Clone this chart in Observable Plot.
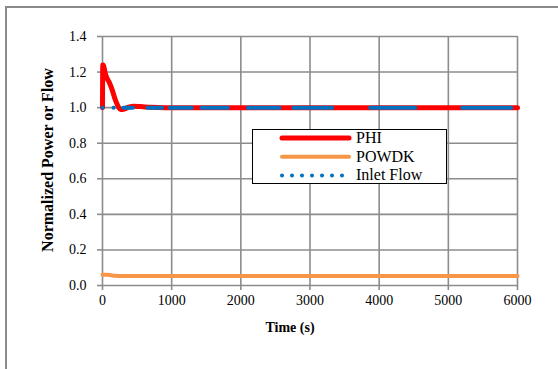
<!DOCTYPE html>
<html>
<head>
<meta charset="utf-8">
<script src="https://cdn.jsdelivr.net/npm/d3@7"></script>
<script src="https://cdn.jsdelivr.net/npm/@observablehq/plot@0.6"></script>
<style>
  html, body { margin: 0; padding: 0; background: #fff; }
  #chart { position: relative; width: 558px; height: 369px; overflow: hidden;
           font-family: "Liberation Serif", "Times New Roman", serif; }
  #frame { position: absolute; left: 5px; top: 6px; right: -2px; bottom: -2px;
           border-left: 2px solid #8a8a8a; border-top: 2px solid #8a8a8a; }
  .title { position: absolute; font-weight: bold; white-space: nowrap; color: #000; }
  #ytitle { left: 48px; top: 160px; font-size: 16px; transform: translate(-50%, -50%) rotate(-90deg); }
  #xtitle { left: 290px; top: 328px; font-size: 14px; transform: translate(-50%, -50%); }
  #legend { position: absolute; left: 252px; top: 129px; width: 193px; height: 53px;
            border: 1.5px solid #000; background: #fff; }
  #legend svg { position: absolute; left: 0; top: 0; }
  .lg { position: absolute; left: 103px; font-size: 16px; line-height: 16px; color: #000; }
</style>
</head>
<body>
<div id="chart">
  <div id="frame"></div>
</div>
<script>
// Time axis (s) and normalized values
const phiTime   = [0, 4, 14, 35, 60, 100, 140, 180, 210, 235, 260, 290, 330, 380, 450, 550, 700, 900, 1500, 3000, 4500, 6000];
const phiValue  = [1.0, 1.24, 1.24, 1.20, 1.17, 1.14, 1.10, 1.05, 1.02, 1.0, 0.99, 0.99, 0.995, 1.003, 1.008, 1.006, 1.002, 1.0, 1.0, 1.0, 1.0, 1.0];
const powdkTime  = [0, 60, 120, 180, 300, 600, 1500, 3000, 4500, 6000];
const powdkValue = [0.06, 0.06, 0.058, 0.055, 0.054, 0.054, 0.054, 0.054, 0.054, 0.054];
// Inlet flow stays at 1.0; its dotted stroke shows as these runs along the time axis
const inletStart = [0, 160, 300, 650, 970, 1430, 2100, 2760, 3870, 5200];
const inletEnd   = [0, 160, 440, 860, 1290, 1810, 2560, 3320, 4520, 5910];
const inletValue = 1.0;
const xTicks = [0, 1000, 2000, 3000, 4000, 5000, 6000];
const yTicks = [0, 0.2, 0.4, 0.6, 0.8, 1.0, 1.2, 1.4];

const series = [
  {name: "PHI", color: "#ff0000", width: 5},
  {name: "POWDK", color: "#f79646", width: 4},
  {name: "Inlet Flow", color: "#0070c0", width: 4}
];

const phi = phiTime.map((t, i) => ({t, v: phiValue[i]}));
const powdk = powdkTime.map((t, i) => ({t, v: powdkValue[i]}));
const inlet = inletStart.map((s, i) => ({s, e: inletEnd[i], v: inletValue}));

const grid = "#8c8c8c";
const font = '"Liberation Serif", "Times New Roman", serif';

const plot = Plot.plot({
  width: 558,
  height: 369,
  marginLeft: 102,
  marginRight: 41,
  marginTop: 36,
  marginBottom: 84,
  style: {fontFamily: font, fontSize: "14px", background: "transparent", color: "#000"},
  x: {domain: [0, 6000]},
  y: {domain: [0, 1.4]},
  marks: [
    Plot.gridX(xTicks, {stroke: grid, strokeOpacity: 1, strokeWidth: 1.6}),
    Plot.gridY(yTicks, {stroke: grid, strokeOpacity: 1, strokeWidth: 1.6}),
    Plot.axisX(xTicks, {tickSize: 5, tickPadding: 5, stroke: grid, strokeWidth: 1.6, label: null, fontSize: 14, fontFamily: font, fill: "#000", tickFormat: d3.format("d")}),
    Plot.axisY(yTicks, {tickSize: 5, tickPadding: 11, stroke: grid, strokeWidth: 1.6, label: null, fontSize: 14, fontFamily: font, fill: "#000", tickFormat: d3.format(".1f")}),
    Plot.line(phi, {x: "t", y: "v", stroke: series[0].color, strokeWidth: series[0].width, strokeLinejoin: "round", strokeLinecap: "round", curve: "monotone-x"}),
    Plot.line(powdk, {x: "t", y: "v", stroke: series[1].color, strokeWidth: series[1].width, strokeLinejoin: "round", strokeLinecap: "round", curve: "monotone-x"}),
    Plot.link(inlet, {x1: "s", x2: "e", y1: "v", y2: "v", stroke: series[2].color, strokeWidth: series[2].width, strokeLinecap: "round"})
  ]
});
document.getElementById("chart").appendChild(plot);
plot.style.position = "absolute";
plot.style.left = "0";
plot.style.top = "0";

const chart = document.getElementById("chart");
const yt = document.createElement("div");
yt.className = "title"; yt.id = "ytitle"; yt.textContent = "Normalized Power or Flow";
chart.appendChild(yt);
const xt = document.createElement("div");
xt.className = "title"; xt.id = "xtitle"; xt.textContent = "Time (s)";
chart.appendChild(xt);

// Legend box with line samples
const legend = document.createElement("div");
legend.id = "legend";
const ns = "http://www.w3.org/2000/svg";
const svg = document.createElementNS(ns, "svg");
svg.setAttribute("width", 193); svg.setAttribute("height", 53);
series.forEach((s, i) => {
  const y = 8 + i * 18.7;
  const line = document.createElementNS(ns, "line");
  line.setAttribute("x1", 29); line.setAttribute("x2", 96);
  line.setAttribute("y1", y); line.setAttribute("y2", y);
  line.setAttribute("stroke", s.color);
  line.setAttribute("stroke-width", s.width);
  line.setAttribute("stroke-linecap", "round");
  if (s.name === "Inlet Flow") line.setAttribute("stroke-dasharray", "0 10");
  svg.appendChild(line);
  const lab = document.createElement("div");
  lab.className = "lg";
  lab.style.top = (y - 8) + "px";
  lab.textContent = s.name;
  legend.appendChild(lab);
});
legend.appendChild(svg);
chart.appendChild(legend);
</script>
</body>
</html>
